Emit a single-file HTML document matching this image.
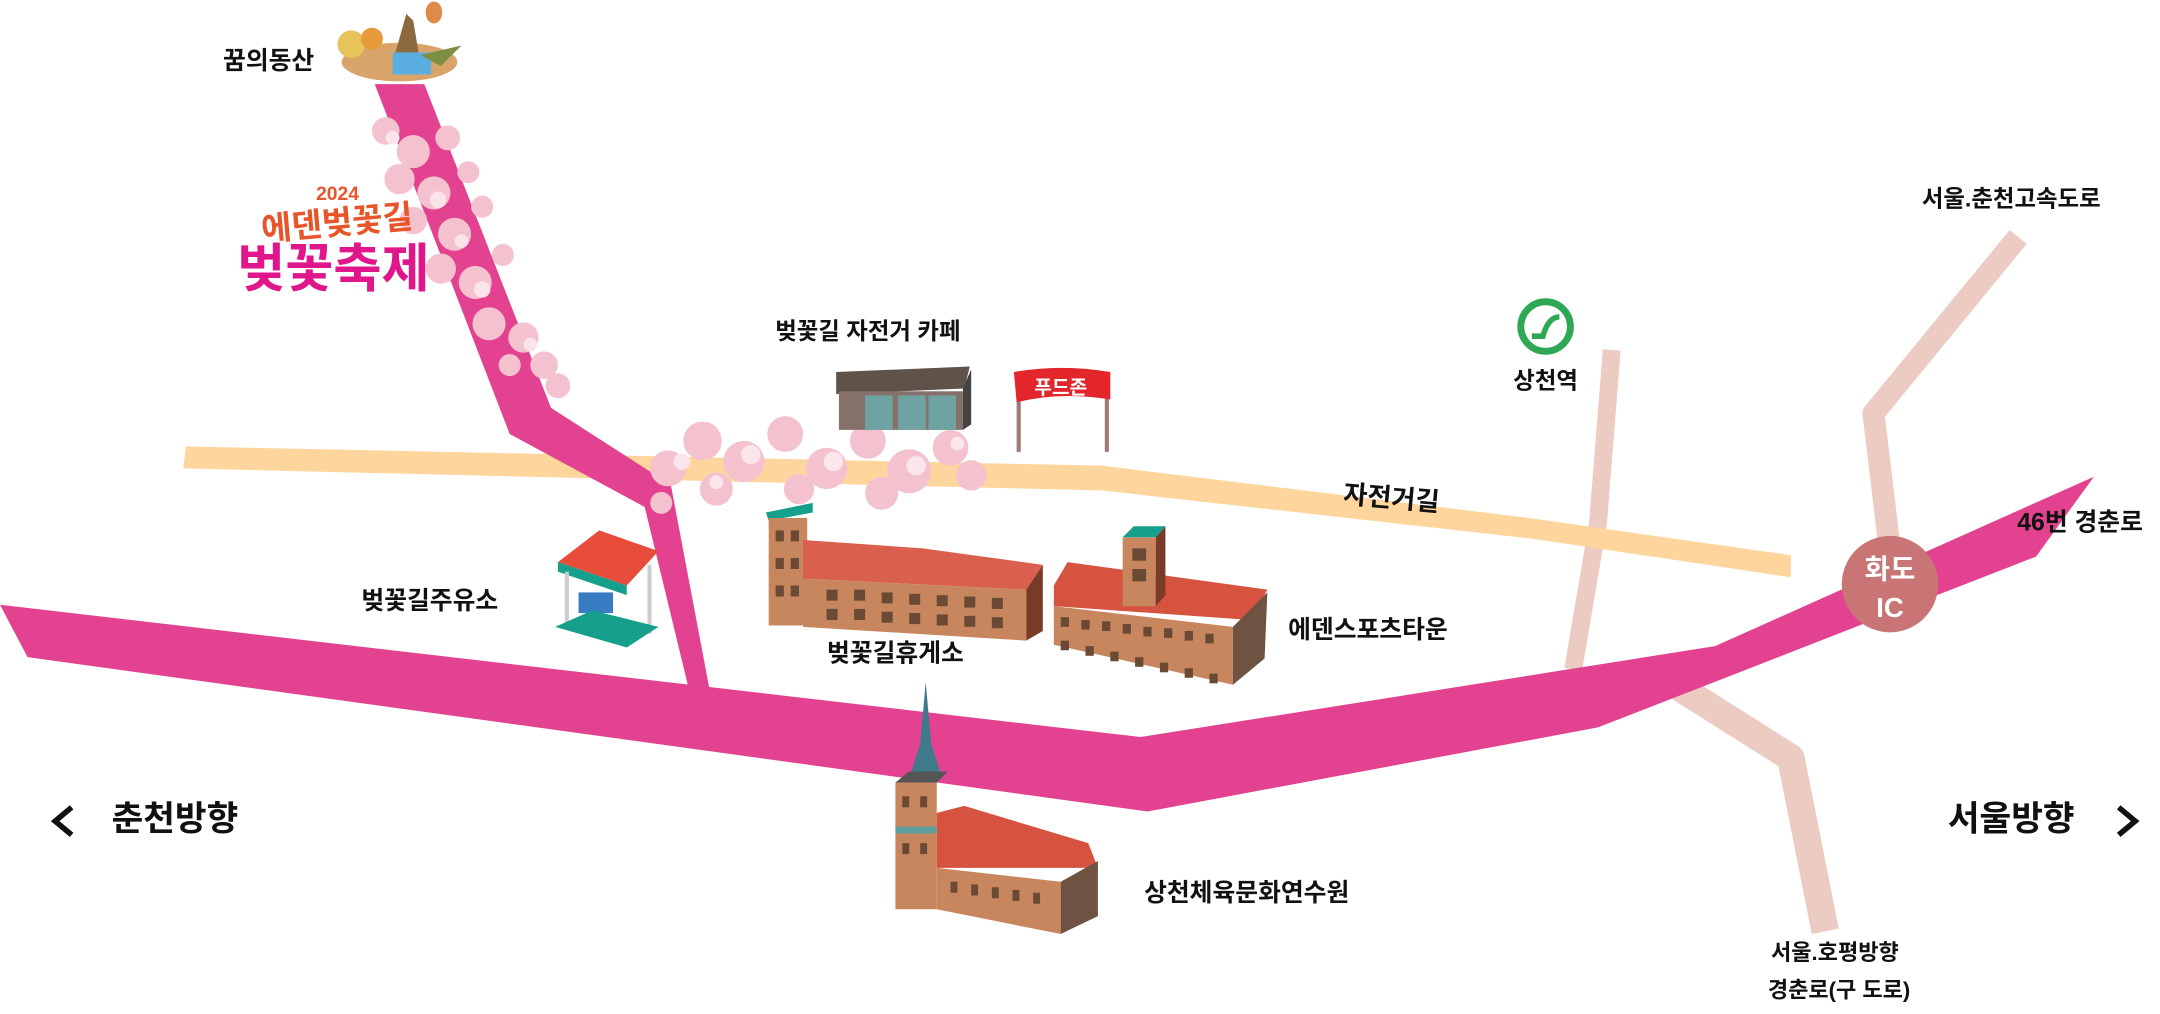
<!DOCTYPE html>
<html><head><meta charset="utf-8">
<style>
html,body{margin:0;padding:0;background:#fff;}
svg{display:block;}
text{font-family:"Liberation Sans","Noto Sans CJK KR",sans-serif;font-weight:bold;fill:#111;}
</style></head>
<body>
<svg width="2160" height="1014" viewBox="0 0 1568 736" xmlns="http://www.w3.org/2000/svg">
<!-- light pink secondary roads -->
<g fill="none" stroke="#EBCBC2" stroke-linejoin="round">
<polyline points="1170,254 1160,380 1142,486" stroke-width="13"/>
<polyline points="1465,172 1360,300 1372,400" stroke-width="16"/>
<polyline points="1205,490 1300,550 1325,676" stroke-width="20"/>
</g>
<!-- bike path -->
<polygon points="135,324 800,338 1110,376 1300,403 1300,419 1112,391 800,356 133,340" fill="#FFD59E"/>
<!-- vertical pink road -->
<polygon points="272,61 308,61 400,296 487,352 515,500 500,500 468,368 370,315" fill="#E2428F"/>
<!-- main road -->
<polygon points="0,439 828,535 1245,469 1520,346 1478,404 1160,528 833,589 20,477" fill="#E2428F"/>
<!-- IC -->
<circle cx="1372" cy="424" r="35" fill="#C97575"/>
<text x="1372" y="420" font-size="20" text-anchor="middle" style="fill:#fff">화도</text>
<text x="1372" y="448" font-size="20" text-anchor="middle" style="fill:#fff">IC</text>
<!-- station icon -->
<circle cx="1122" cy="237" r="18" fill="none" stroke="#2EA855" stroke-width="5"/>
<path d="M1112,244 L1120,244 Q1124,230 1132,230" fill="none" stroke="#2EA855" stroke-width="4"/>
<!-- cherry blossoms vertical -->
<g fill="#F4C2CF">
<circle cx="280" cy="95" r="10"/><circle cx="300" cy="110" r="12"/><circle cx="325" cy="100" r="9"/><circle cx="290" cy="130" r="11"/>
<circle cx="315" cy="140" r="12"/><circle cx="340" cy="125" r="8"/><circle cx="300" cy="160" r="10"/><circle cx="330" cy="170" r="12"/>
<circle cx="350" cy="150" r="8"/><circle cx="320" cy="195" r="11"/><circle cx="345" cy="205" r="12"/><circle cx="365" cy="185" r="8"/>
<circle cx="355" cy="235" r="12"/><circle cx="380" cy="245" r="11"/><circle cx="395" cy="265" r="10"/><circle cx="405" cy="280" r="9"/><circle cx="370" cy="265" r="8"/>
</g>
<g fill="#FBE3EA">
<circle cx="285" cy="100" r="5"/><circle cx="318" cy="145" r="6"/><circle cx="335" cy="175" r="5"/><circle cx="350" cy="210" r="6"/><circle cx="385" cy="250" r="5"/>
</g>
<!-- blossoms bikeway -->
<g fill="#F4C2CF">
<circle cx="485" cy="340" r="13"/><circle cx="510" cy="320" r="14"/><circle cx="540" cy="335" r="15"/><circle cx="570" cy="315" r="13"/>
<circle cx="600" cy="340" r="15"/><circle cx="630" cy="320" r="13"/><circle cx="660" cy="342" r="16"/><circle cx="690" cy="325" r="13"/>
<circle cx="705" cy="345" r="11"/><circle cx="520" cy="355" r="12"/><circle cx="580" cy="355" r="11"/><circle cx="640" cy="358" r="12"/><circle cx="480" cy="365" r="8"/>
</g>
<g fill="#FBE6EC">
<circle cx="495" cy="335" r="6"/><circle cx="545" cy="330" r="7"/><circle cx="605" cy="335" r="7"/><circle cx="665" cy="338" r="7"/><circle cx="695" cy="322" r="5"/><circle cx="520" cy="350" r="5"/>
</g>
<!-- dream hill -->
<g>
<ellipse cx="290" cy="45" rx="42" ry="14" fill="#D9A46A"/>
<circle cx="255" cy="32" r="10" fill="#E8C25A"/><circle cx="270" cy="28" r="8" fill="#E69B3A"/>
<path d="M285,45 L295,10 L300,15 L305,45Z" fill="#8C6A3E"/>
<rect x="285" y="38" width="28" height="16" fill="#5BAEE0"/>
<ellipse cx="315" cy="9" rx="6" ry="8" fill="#E08A4A"/>
<path d="M305,40 L335,33 L320,48Z" fill="#7C8F45"/>
</g>
<!-- festival logo -->
<text x="245" y="145" font-size="14" style="fill:#E8552A" text-anchor="middle">2024</text>
<text x="245" y="170" font-size="24" style="fill:#E8552A" text-anchor="middle" transform="rotate(-5 245 165)">에덴벚꽃길</text>
<text x="242" y="208" font-size="38" style="fill:#E0168B" text-anchor="middle">벚꽃축제</text>
<!-- cafe -->
<polygon points="607,270 704,266 700,282 607,286" fill="#5E5249"/>
<rect x="609" y="284" width="90" height="28" fill="#85706A"/>
<rect x="628" y="287" width="20" height="25" fill="#6FA3A3"/><rect x="652" y="287" width="20" height="25" fill="#6FA3A3"/><rect x="674" y="287" width="20" height="25" fill="#6FA3A3"/>
<polygon points="699,282 705,268 705,308 699,312" fill="#444"/>
<!-- food zone -->
<rect x="738" y="285" width="3" height="43" fill="#9C7A76"/><rect x="802" y="285" width="3" height="43" fill="#9C7A76"/>
<path d="M736,270 Q770,264 806,270 L806,290 Q770,284 738,292Z" fill="#E3262B"/>
<text x="770" y="286" font-size="14" style="fill:#fff" text-anchor="middle">푸드존</text>
<!-- gas station -->
<polygon points="405,408 435,385 478,400 455,425" fill="#E84C3B"/>
<polygon points="405,408 455,425 455,432 405,415" fill="#16A08B"/>
<rect x="410" y="415" width="3" height="40" fill="#ccc"/><rect x="470" y="410" width="3" height="50" fill="#ccc"/>
<rect x="420" y="430" width="25" height="15" fill="#3A7CC4"/>
<polygon points="403,455 455,470 478,455 430,443" fill="#16A08B"/>
<!-- rest area -->
<polygon points="556,372 590,365 590,372 558,378" fill="#16A08B"/>
<rect x="558" y="376" width="28" height="78" fill="#C8865E"/>
<polygon points="583,392 670,398 757,410 745,428 583,420" fill="#D9604E"/>
<polygon points="583,420 745,428 745,465 583,455" fill="#C8865E"/>
<polygon points="745,428 757,410 757,458 745,465" fill="#7A3A28"/>
<g fill="#6B4A35">
<rect x="600" y="428" width="8" height="8"/><rect x="620" y="428" width="8" height="8"/><rect x="640" y="430" width="8" height="8"/><rect x="660" y="431" width="8" height="8"/><rect x="680" y="432" width="8" height="8"/><rect x="700" y="433" width="8" height="8"/><rect x="720" y="434" width="8" height="8"/>
<rect x="600" y="442" width="8" height="8"/><rect x="620" y="442" width="8" height="8"/><rect x="640" y="444" width="8" height="8"/><rect x="660" y="445" width="8" height="8"/><rect x="680" y="446" width="8" height="8"/><rect x="700" y="447" width="8" height="8"/><rect x="720" y="448" width="8" height="8"/>
<rect x="563" y="385" width="6" height="8"/><rect x="574" y="385" width="6" height="8"/><rect x="563" y="405" width="6" height="8"/><rect x="574" y="405" width="6" height="8"/><rect x="563" y="425" width="6" height="8"/><rect x="574" y="425" width="6" height="8"/>
</g>
<!-- eden sports town -->
<polygon points="765,425 775,408 920,428 908,450 765,440" fill="#D5533F"/>
<polygon points="765,440 895,455 895,497 765,468" fill="#C8865E"/>
<polygon points="895,455 920,430 918,478 895,497" fill="#6E5242"/>
<rect x="815" y="390" width="24" height="50" fill="#C8865E"/>
<polygon points="815,390 823,382 846,382 839,390" fill="#16A08B"/>
<polygon points="839,390 846,382 846,432 839,440" fill="#7A3A28"/>
<g fill="#6B4A35">
<rect x="770" y="448" width="6" height="7"/><rect x="785" y="450" width="6" height="7"/><rect x="800" y="451" width="6" height="7"/><rect x="815" y="453" width="6" height="7"/><rect x="830" y="455" width="6" height="7"/><rect x="845" y="456" width="6" height="7"/><rect x="860" y="458" width="6" height="7"/><rect x="875" y="460" width="6" height="7"/>
<rect x="770" y="465" width="6" height="7"/><rect x="788" y="469" width="6" height="7"/><rect x="806" y="473" width="6" height="7"/><rect x="824" y="477" width="6" height="7"/><rect x="842" y="481" width="6" height="7"/><rect x="860" y="485" width="6" height="7"/><rect x="878" y="489" width="6" height="7"/>
<rect x="822" y="398" width="10" height="9"/><rect x="822" y="413" width="10" height="9"/>
</g>
<!-- culture center -->
<polygon points="672,495 676,540 684,565 660,565 668,540" fill="#3E7A8A"/>
<rect x="650" y="568" width="30" height="92" fill="#C8865E"/>
<polygon points="650,568 660,560 688,560 680,568" fill="#555"/>
<polygon points="680,590 700,585 790,612 797,630 680,630" fill="#D5533F"/>
<polygon points="680,630 770,640 770,678 680,660" fill="#C8865E"/>
<polygon points="770,640 797,625 797,665 770,678" fill="#6E5242"/>
<rect x="650" y="600" width="30" height="5" fill="#5E9FA0"/>
<g fill="#6B4A35">
<rect x="655" y="578" width="5" height="8"/><rect x="668" y="578" width="5" height="8"/><rect x="655" y="612" width="5" height="8"/><rect x="668" y="612" width="5" height="8"/>
<rect x="690" y="640" width="5" height="8"/><rect x="705" y="642" width="5" height="8"/><rect x="720" y="644" width="5" height="8"/><rect x="735" y="646" width="5" height="8"/><rect x="750" y="648" width="5" height="8"/>
</g>
<!-- labels -->
<text x="195" y="50" font-size="18" text-anchor="middle">꿈의동산</text>
<text x="630" y="246" font-size="17" text-anchor="middle">벚꽃길 자전거 카페</text>
<text x="1122" y="282" font-size="17" text-anchor="middle">상천역</text>
<text x="1460" y="150" font-size="17" text-anchor="middle">서울.춘천고속도로</text>
<text x="1010" y="368" font-size="19" text-anchor="middle" transform="rotate(5 1010 362)">자전거길</text>
<text x="1510" y="385" font-size="18" text-anchor="middle">46번 경춘로</text>
<text x="312" y="442" font-size="18" text-anchor="middle">벚꽃길주유소</text>
<text x="650" y="480" font-size="18" text-anchor="middle">벚꽃길휴게소</text>
<text x="993" y="463" font-size="18" text-anchor="middle">에덴스포츠타운</text>
<text x="127" y="603" font-size="25" text-anchor="middle">춘천방향</text>
<text x="1460" y="603" font-size="25" text-anchor="middle">서울방향</text>
<path d="M52,586 L40,596 L52,606" fill="none" stroke="#111" stroke-width="4"/>
<path d="M1538,586 L1550,596 L1538,606" fill="none" stroke="#111" stroke-width="4"/>
<text x="905" y="654" font-size="18" text-anchor="middle">상천체육문화연수원</text>
<text x="1332" y="697" font-size="16" text-anchor="middle">서울.호평방향</text>
<text x="1335" y="724" font-size="16" text-anchor="middle">경춘로(구 도로)</text>
</svg>
</body></html>
